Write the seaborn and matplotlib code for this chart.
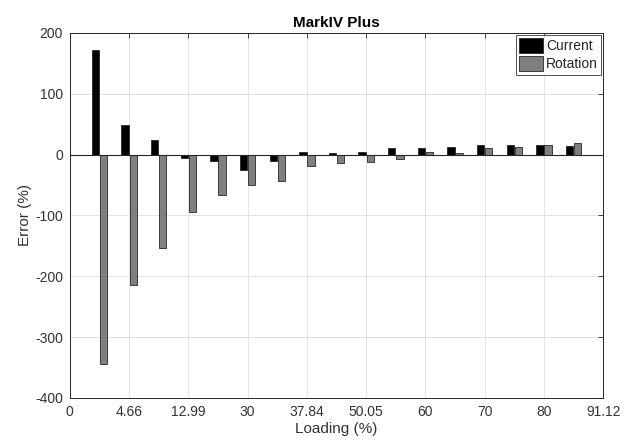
import numpy as np
import pandas as pd
import matplotlib
matplotlib.use("Agg")
import matplotlib.pyplot as plt
import seaborn as sns

# ---- data ----
positions = [0.5, 1.0, 1.5, 2.0, 2.5, 3.0, 3.5, 4.0, 4.5, 5.0, 5.5, 6.0, 6.5, 7.0, 7.5, 8.0, 8.5]
current = [172, 49, 24, -6, -10, -26, -10, 4, 2, 4, 10, 10, 12.5, 15, 15, 15, 14.5]
rotation = [-345, -215, -154, -94, -67, -50, -44, -19, -14, -12, -8, 4, 3, 11.5, 12.5, 16, 19.5]
series_names = ["Current", "Rotation"]
tick_labels = ["0", "4.66", "12.99", "30", "37.84", "50.05", "60", "70", "80", "91.12"]
y_ticks = [-400, -300, -200, -100, 0, 100, 200]

df = pd.DataFrame({
    "pos": positions * 2,
    "err": current + rotation,
    "series": [series_names[0]] * len(positions) + [series_names[1]] * len(positions),
})

sns.set_style("white")
plt.rcParams["font.family"] = ["Liberation Sans", "DejaVu Sans"]
plt.rcParams["axes.unicode_minus"] = False

fig = plt.figure(figsize=(6.35, 4.45), dpi=100)
ax = fig.add_axes([0.110, 0.106, 0.840, 0.820])

sns.barplot(data=df, x="pos", y="err", hue="series", native_scale=True,
            palette={"Current": "#000000", "Rotation": "#808080"},
            width=0.55, gap=0.1, edgecolor="#262626", linewidth=0.6,
            errorbar=None, ax=ax, zorder=3)

ax.axhline(0, color="#262626", lw=0.8, zorder=4)

ax.set_xlim(0, 9)
ax.set_ylim(-400, 200)
ax.set_xticks(range(len(tick_labels)))
ax.set_xticklabels(tick_labels)
ax.set_yticks(y_ticks)
ax.grid(True, color="#e3e3e3", lw=0.7, zorder=0)
ax.set_axisbelow(True)

for s in ax.spines.values():
    s.set_visible(True)
    s.set_color("#262626")
    s.set_linewidth(0.7)

ax.tick_params(axis="both", direction="in", length=3.5, width=0.6, color="#262626",
               labelcolor="#333333", labelsize=10, top=True, right=True, pad=5)

ax.set_xlabel("Loading (%)", fontsize=11, color="#333333", labelpad=2)
ax.set_ylabel("Error (%)", fontsize=11, color="#333333", labelpad=2)
ax.set_title("MarkIV Plus", fontsize=11, fontweight="bold", color="#000000", pad=4)

leg = ax.legend(loc="upper right", fontsize=10, frameon=True, fancybox=False,
                edgecolor="#262626", handlelength=1.7, handleheight=1.25,
                handletextpad=0.2, borderpad=0.25, labelspacing=0.2,
                borderaxespad=0.15)
leg.get_frame().set_linewidth(0.7)
leg.set_title(None)

fig.savefig("out.png", dpi=100)
